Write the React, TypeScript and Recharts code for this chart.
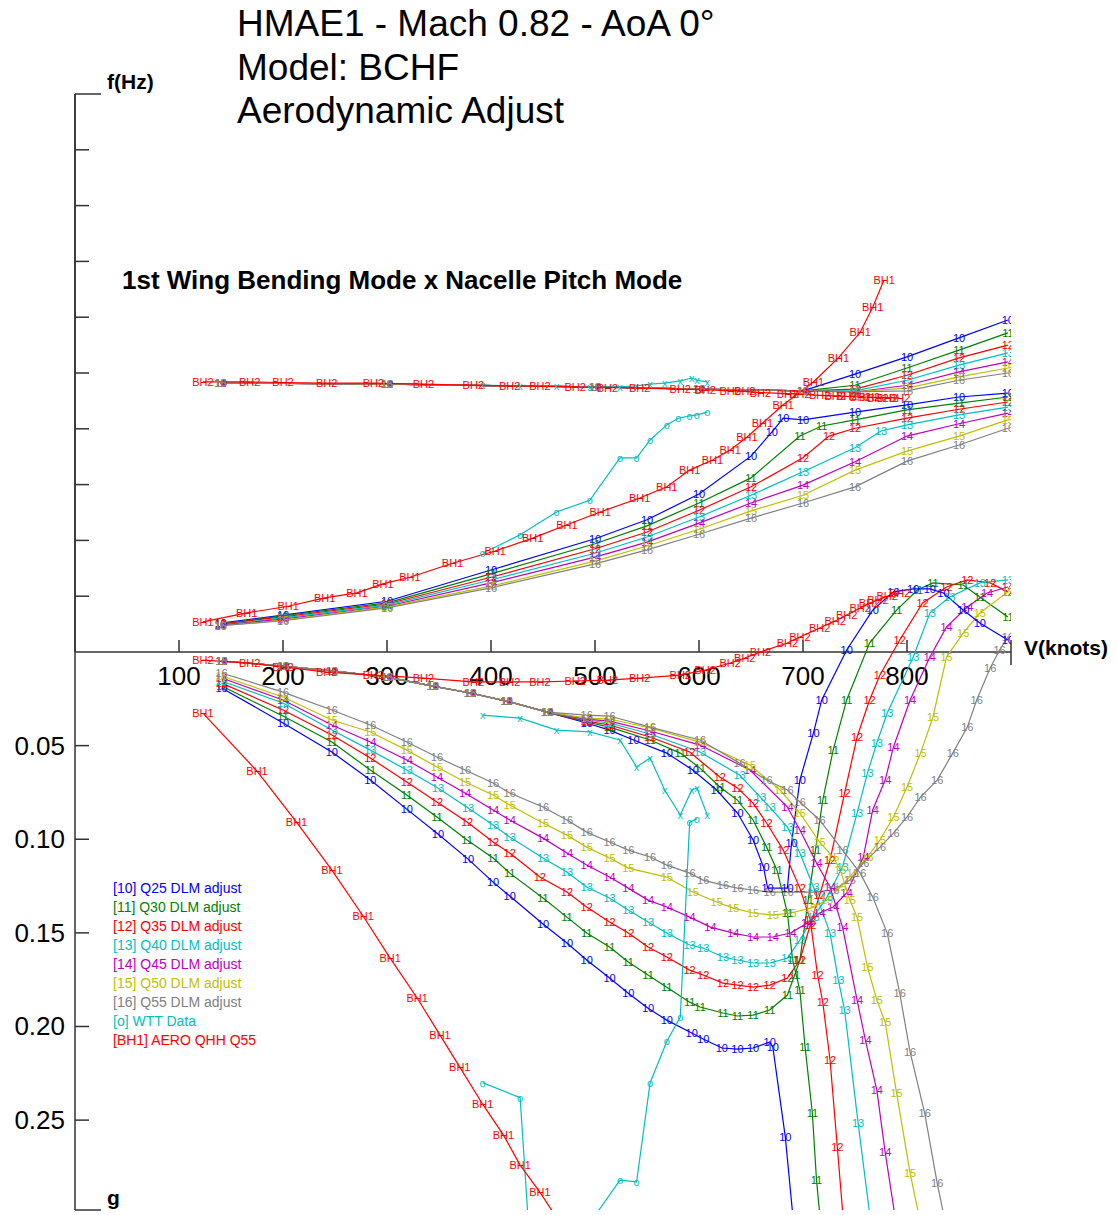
import React from "react";
import { LineChart, Line, XAxis, YAxis } from "recharts";

type P = [number, number];

const FONT = "Arial, 'Liberation Sans', sans-serif";
const AXIS = "#333";

// frequency, wing bending branch (V knots, f)
const fLow10: P[] = [[140,0.52],[200,0.66],[300,0.91],[400,1.47],[500,2.03],[550,2.37],[600,2.83],[650,3.51],[670,3.94],[681,4.19],[700,4.16],[750,4.30],[800,4.43],[850,4.57],[897,4.64]];
const fLow11: P[] = [[140,0.50],[200,0.65],[300,0.88],[400,1.40],[500,1.94],[550,2.26],[600,2.67],[650,3.12],[697,3.87],[718,4.05],[750,4.16],[800,4.34],[850,4.46],[897,4.57]];
const fLow12: P[] = [[140,0.50],[200,0.63],[300,0.86],[400,1.34],[500,1.85],[550,2.15],[600,2.54],[650,2.96],[700,3.48],[725,3.87],[750,4.01],[800,4.19],[850,4.35],[897,4.48]];
const fLow13: P[] = [[140,0.48],[200,0.61],[300,0.84],[400,1.29],[500,1.77],[550,2.06],[600,2.42],[650,2.81],[700,3.23],[750,3.66],[775,3.96],[800,4.07],[850,4.25],[897,4.39]];
const fLow14: P[] = [[140,0.48],[200,0.59],[300,0.82],[400,1.24],[500,1.70],[550,1.97],[600,2.31],[650,2.67],[700,2.99],[750,3.41],[800,3.87],[850,4.09],[897,4.28]];
const fLow15: P[] = [[140,0.47],[200,0.57],[300,0.81],[400,1.18],[500,1.63],[550,1.90],[600,2.20],[650,2.53],[700,2.81],[750,3.26],[800,3.60],[850,3.87],[897,4.16]];
const fLow16: P[] = [[140,0.47],[200,0.56],[300,0.79],[400,1.15],[500,1.58],[550,1.83],[600,2.11],[650,2.40],[700,2.67],[750,2.96],[800,3.42],[850,3.71],[897,4.01]];

// frequency, nacelle pitch branch
const fUpStart: P[] = [[140,4.82],[300,4.80],[500,4.75],[600,4.71],[700,4.68]];
const fUp10: P[] = [[750,4.98],[800,5.29],[850,5.63],[897,5.95]];
const fUp11: P[] = [[750,4.78],[800,5.09],[850,5.41],[897,5.72]];
const fUp12: P[] = [[750,4.71],[800,4.96],[850,5.27],[897,5.50]];
const fUp13: P[] = [[750,4.68],[800,4.87],[850,5.14],[897,5.36]];
const fUp14: P[] = [[750,4.66],[800,4.78],[850,5.02],[897,5.20]];
const fUp15: P[] = [[750,4.66],[800,4.73],[850,4.93],[897,5.09]];
const fUp16: P[] = [[750,4.66],[800,4.68],[850,4.87],[897,5.00]];

// damping, high branch (V, g)
const gHigh10: P[] = [[141,0.0192],[200,0.0379],[247,0.0534],[284,0.0684],[319,0.0839],[349,0.0972],[378,0.1106],[402,0.1229],[418,0.1303],[450,0.1453],[473,0.1554],[492,0.1645],[514,0.1741],[532,0.1822],[551,0.1902],[569,0.1966],[593,0.2035],[604,0.2067],[622,0.2115],[637,0.2121],[652,0.2115],[668,0.2083],[671,0.2110],[683,0.2591],[690,0.2997],[694,0.3168]];
const gHigh11: P[] = [[141,0.0182],[200,0.0342],[247,0.0481],[284,0.0630],[319,0.0764],[348,0.0881],[377,0.1004],[402,0.1100],[418,0.1181],[450,0.1314],[473,0.1416],[492,0.1501],[514,0.1576],[532,0.1656],[551,0.1725],[569,0.1790],[591,0.1870],[601,0.1896],[623,0.1928],[637,0.1944],[652,0.1939],[668,0.1912],[685,0.1832],[692,0.1725],[697,0.1645],[705,0.1325],[712,0.1058],[719,0.0791],[729,0.0524],[742,0.0256],[764,-0.0048],[790,-0.0224],[810,-0.0331],[825,-0.0369],[854,-0.0358],[870,-0.0294],[897,-0.0187]];
const gHigh12: P[] = [[141,0.0166],[200,0.0310],[247,0.0443],[284,0.0566],[319,0.0694],[348,0.0801],[377,0.0908],[402,0.1015],[418,0.1074],[447,0.1202],[473,0.1282],[492,0.1362],[514,0.1442],[532,0.1501],[551,0.1576],[569,0.1629],[591,0.1699],[604,0.1725],[623,0.1768],[637,0.1779],[652,0.1790],[668,0.1779],[685,0.1741],[697,0.1645],[707,0.1458],[716,0.1298],[726,0.1111],[740,0.0753],[752,0.0454],[764,0.0256],[774,0.0123],[793,-0.0064],[815,-0.0262],[838,-0.0347],[858,-0.0385],[880,-0.0369],[897,-0.0321]];
const gHigh13: P[] = [[141,0.0155],[200,0.0272],[247,0.0417],[284,0.0524],[319,0.0630],[349,0.0726],[378,0.0833],[402,0.0924],[418,0.0988],[450,0.1100],[473,0.1175],[492,0.1255],[514,0.1314],[532,0.1378],[551,0.1442],[569,0.1501],[591,0.1565],[604,0.1581],[623,0.1629],[637,0.1645],[652,0.1661],[668,0.1661],[685,0.1635],[697,0.1538],[710,0.1416],[723,0.1309],[738,0.1148],[752,0.0860],[762,0.0646],[771,0.0486],[781,0.0326],[806,0.0027],[822,-0.0208],[841,-0.0294],[870,-0.0369],[897,-0.0385]];
const gHigh14: P[] = [[141,0.0139],[200,0.0256],[247,0.0390],[284,0.0481],[319,0.0577],[348,0.0668],[375,0.0753],[402,0.0844],[418,0.0897],[450,0.0994],[473,0.1074],[492,0.1138],[514,0.1202],[532,0.1261],[551,0.1325],[569,0.1362],[591,0.1416],[611,0.1469],[633,0.1501],[652,0.1522],[671,0.1522],[688,0.1501],[704,0.1448],[716,0.1394],[729,0.1362],[742,0.1287],[758,0.1095],[767,0.0844],[779,0.0684],[787,0.0507],[803,0.0256],[822,0.0027],[838,-0.0134],[858,-0.0240],[877,-0.0315],[897,-0.0347]];
const gHigh15: P[] = [[141,0.0128],[200,0.0240],[247,0.0363],[284,0.0427],[319,0.0524],[348,0.0614],[375,0.0694],[402,0.0764],[418,0.0817],[450,0.0913],[473,0.0978],[492,0.1042],[514,0.1100],[532,0.1154],[569,0.1202],[594,0.1282],[617,0.1335],[633,0.1368],[652,0.1394],[671,0.1405],[688,0.1394],[707,0.1368],[723,0.1325],[736,0.1255],[748,0.1181],[762,0.1095],[774,0.1004],[787,0.0881],[800,0.0721],[813,0.0540],[825,0.0347],[838,0.0027],[854,-0.0101],[870,-0.0208],[897,-0.0321]];
const gHigh16: P[] = [[141,0.0112],[200,0.0214],[247,0.0310],[284,0.0390],[319,0.0481],[348,0.0561],[375,0.0630],[402,0.0700],[418,0.0753],[450,0.0828],[473,0.0897],[492,0.0962],[514,0.1015],[532,0.1058],[553,0.1095],[569,0.1138],[591,0.1181],[604,0.1218],[623,0.1245],[637,0.1261],[652,0.1271],[668,0.1282],[685,0.1282],[710,0.1282],[729,0.1271],[745,0.1218],[758,0.1127],[774,0.1042],[787,0.0967],[800,0.0881],[813,0.0775],[829,0.0684],[844,0.0540],[858,0.0401],[867,0.0256],[880,0.0085],[889,-0.0011],[897,-0.0080]];

// damping, low branch (shared start, then per series)
const gLowStart: P[] = [[141,0.0048],[200,0.0075],[247,0.0101],[300,0.0134],[344,0.0182],[380,0.0219],[415,0.0262],[454,0.0321]];
const gLow10: P[] = [[492,0.0379],[514,0.0417],[537,0.0470],[569,0.0540],[594,0.0630],[617,0.0737],[637,0.0860],[652,0.1004],[662,0.1148],[666,0.1261],[685,0.1261],[689,0.1020],[697,0.0684],[710,0.0433],[718,0.0256],[742,-0.0011],[767,-0.0224],[787,-0.0321],[806,-0.0337],[822,-0.0337],[835,-0.0315],[854,-0.0224],[870,-0.0155],[897,-0.0064]];
const gLow11: P[] = [[492,0.0374],[514,0.0401],[553,0.0470],[582,0.0540],[601,0.0620],[620,0.0721],[637,0.0791],[652,0.0897],[665,0.1042],[675,0.1165],[685,0.1394],[690,0.1645],[697,0.1806],[702,0.2110],[709,0.2463],[713,0.2821],[716,0.2997],[718,0.3141]];
const gLow12: P[] = [[492,0.0369],[514,0.0390],[553,0.0454],[591,0.0534],[620,0.0668],[637,0.0726],[652,0.0807],[665,0.0913],[681,0.1058],[697,0.1261],[707,0.1432],[714,0.1725],[719,0.1870],[726,0.2179],[733,0.2644],[738,0.2981],[740,0.3141]];
const gLow13: P[] = [[492,0.0363],[514,0.0379],[553,0.0438],[601,0.0534],[639,0.0657],[659,0.0775],[668,0.0828],[685,0.0935],[697,0.1074],[710,0.1255],[726,0.1501],[734,0.1752],[740,0.1912],[753,0.2516],[764,0.2997],[767,0.3141]];
const gLow14: P[] = [[492,0.0358],[514,0.0369],[553,0.0422],[601,0.0497],[649,0.0630],[685,0.0828],[697,0.0951],[713,0.1127],[726,0.1255],[738,0.1469],[752,0.1859],[760,0.2073],[771,0.2340],[779,0.2671],[788,0.2997],[791,0.3141]];
const gLow15: P[] = [[492,0.0353],[514,0.0358],[553,0.0406],[601,0.0481],[649,0.0604],[678,0.0737],[697,0.0860],[716,0.1015],[729,0.1095],[736,0.1165],[745,0.1325],[752,0.1416],[762,0.1683],[771,0.1859],[779,0.1976],[790,0.2356],[803,0.2783],[811,0.2997],[814,0.3141]];
const gLow16: P[] = [[492,0.0337],[514,0.0342],[553,0.0401],[601,0.0470],[639,0.0593],[665,0.0684],[685,0.0737],[697,0.0801],[716,0.0897],[738,0.1058],[755,0.1181],[767,0.1309],[781,0.1501],[793,0.1822],[803,0.2137],[817,0.2463],[829,0.2837],[835,0.2997],[838,0.3141]];

// aero QHH Q55
const bh1Freq: P[] = [[123,0.54],[165,0.70],[205,0.82],[240,0.97],[271,1.06],[296,1.22],[322,1.34],[363,1.59],[404,1.81],[440,2.04],[473,2.28],[505,2.51],[543,2.76],[569,2.96],[591,3.26],[613,3.44],[630,3.62],[646,3.85],[661,4.10],[681,4.43],[710,4.84],[734,5.27],[755,5.73],[767,6.18],[778,6.67]];
const bh1Damp: P[] = [[123,0.0326],[175,0.0636],[213,0.0908],[247,0.1165],[277,0.1410],[303,0.1635],[329,0.1848],[351,0.2046],[370,0.2217],[392,0.2415],[412,0.2580],[428,0.2740],[447,0.2885],[466,0.3045]];
const bh2Freq: P[] = [[123,4.84],[168,4.84],[200,4.83],[242,4.82],[287,4.82],[335,4.80],[383,4.78],[418,4.77],[447,4.76],[481,4.75],[512,4.74],[543,4.73],[582,4.71],[606,4.70],[630,4.68],[644,4.67],[659,4.65],[685,4.63],[697,4.62],[716,4.60],[731,4.59],[742,4.58],[755,4.57],[764,4.57],[772,4.56],[781,4.56],[793,4.55]];
const bh2Damp: P[] = [[123,0.0043],[168,0.0059],[200,0.0080],[242,0.0107],[287,0.0123],[335,0.0139],[383,0.0160],[418,0.0160],[447,0.0160],[481,0.0155],[512,0.0150],[543,0.0139],[582,0.0123],[606,0.0096],[630,0.0059],[644,0.0032],[659,0.0],[685,-0.0048],[697,-0.0080],[716,-0.0128],[731,-0.0166],[742,-0.0198],[755,-0.0235],[764,-0.0262],[772,-0.0278],[781,-0.0299],[793,-0.0315]];

// wind tunnel test data
const wttFreq: P[] = [[392,1.77],[428,2.10],[463,2.51],[495,2.72],[524,3.48],[540,3.48],[553,3.80],[569,4.07],[580,4.19],[591,4.23],[598,4.25],[608,4.30]];
const wttDamp: P[] = [[392,0.230],[428,0.238],[463,0.533],[495,0.305],[524,0.282],[540,0.283],[553,0.230],[569,0.208],[582,0.195],[591,0.091],[598,0.089]];
const wttXFreq: P[] = [[392,4.78],[428,4.77],[463,4.76],[495,4.75],[524,4.75],[540,4.77],[553,4.80],[567,4.82],[582,4.86],[593,4.91],[598,4.87],[608,4.84]];
const wttXDamp: P[] = [[392,0.0337],[428,0.0353],[463,0.0417],[495,0.0427],[524,0.0470],[540,0.0614],[553,0.0566],[567,0.0737],[582,0.0871],[593,0.0737],[598,0.0726],[608,0.0871]];

const vTicks = [100, 200, 300, 400, 500, 600, 700, 800, 900];
const fTicks = [1, 2, 3, 4, 5, 6, 7, 8, 9, 10];
const gTicks = [0.05, 0.1, 0.15, 0.2, 0.25, 0.298];

const series = [
  { id: "10", q: "Q25", color: "#0000ff", fLow: fLow10, fUp: fUp10, gHigh: gHigh10, gLow: gLow10 },
  { id: "11", q: "Q30", color: "#008000", fLow: fLow11, fUp: fUp11, gHigh: gHigh11, gLow: gLow11 },
  { id: "12", q: "Q35", color: "#ff0000", fLow: fLow12, fUp: fUp12, gHigh: gHigh12, gLow: gLow12 },
  { id: "13", q: "Q40", color: "#00bfbf", fLow: fLow13, fUp: fUp13, gHigh: gHigh13, gLow: gLow13 },
  { id: "14", q: "Q45", color: "#bf00bf", fLow: fLow14, fUp: fUp14, gHigh: gHigh14, gLow: gLow14 },
  { id: "15", q: "Q50", color: "#bfbf00", fLow: fLow15, fUp: fUp15, gHigh: gHigh15, gLow: gLow15 },
  { id: "16", q: "Q55", color: "#808080", fLow: fLow16, fUp: fUp16, gHigh: gHigh16, gLow: gLow16 },
];

const RED = "#ff0000";
const CYAN = "#00bfbf";
const PLOT_BOTTOM = 1210;

const pts = (a: P[]) => a.map(([v, y]) => ({ v, y }));

// text markers; skip the ones that would sit on the clipped bottom edge
const mark = (label: string, color: string) => (p: any) => {
  if (p.cx == null || p.cy == null || p.cy > PLOT_BOTTOM - 7) return <g key={`n${p.index}`} />;
  return (
    <text key={`m${p.index}`} x={p.cx} y={p.cy} textAnchor="middle" dominantBaseline="central"
      fontSize={11} fontFamily={FONT} fill={color}>{label}</text>
  );
};

const XTick = (p: any) => {
  const { x, y, payload } = p;
  if (payload.value === 900) {
    return <line x1={x} x2={x} y1={y - 12} y2={y + 13} stroke={AXIS} strokeWidth={1.5} />;
  }
  return (
    <g>
      <line x1={x} x2={x} y1={y} y2={y - 12} stroke={AXIS} strokeWidth={1.5} />
      <text x={x} y={y + 33} textAnchor="middle" fontSize={26} fontFamily={FONT} fill="#000">{payload.value}</text>
    </g>
  );
};

const FTick = (p: any) => {
  const { x, y, payload } = p;
  return <line x1={x} x2={x + (payload.value === 10 ? 26 : 14)} y1={y} y2={y} stroke={AXIS} strokeWidth={1.5} />;
};

const GTick = (p: any) => {
  const { x, y, payload } = p;
  const last = payload.value > 0.29;
  return (
    <g>
      <line x1={x} x2={x + (last ? 26 : 14)} y1={y} y2={y} stroke={AXIS} strokeWidth={1.5} />
      {!last && (
        <text x={x - 10} y={y + 9} textAnchor="end" fontSize={26} fontFamily={FONT} fill="#000">
          {payload.value.toFixed(2)}
        </text>
      )}
    </g>
  );
};

const line = (key: string, data: P[], color: string, label: string) => (
  <Line key={key} data={pts(data)} dataKey="y" type="linear" stroke={color} strokeWidth={1.2}
    dot={mark(label, color)} activeDot={false} isAnimationActive={false} />
);

const legend = [
  ...series.map((s) => ({ text: `[${s.id}] ${s.q} DLM adjust`, color: s.color })),
  { text: "[o] WTT Data", color: CYAN },
  { text: "[BH1] AERO QHH Q55", color: RED },
];

export default function App() {
  const box: React.CSSProperties = { position: "absolute", left: 0, top: 0 };
  return (
    <div style={{ position: "absolute", left: 0, top: 0, width: 1117, height: 1215, background: "#fff" }}>
      <div style={box}>
        <LineChart width={1117} height={700} margin={{ top: 94, right: 106, bottom: 0, left: 0 }}>
          <XAxis dataKey="v" type="number" domain={[0, 900]} ticks={vTicks} interval={0} height={48}
            allowDataOverflow tickSize={0} tickMargin={0} tickLine={false} tick={<XTick />}
            axisLine={{ stroke: AXIS, strokeWidth: 1.5 }} />
          <YAxis type="number" domain={[0, 10]} ticks={fTicks} interval={0} width={75}
            tickSize={0} tickMargin={0} tickLine={false} tick={<FTick />}
            axisLine={{ stroke: AXIS, strokeWidth: 1.5 }} />
          {series.map((s) => line(`fl${s.id}`, s.fLow, s.color, s.id))}
          {series.map((s) => line(`fu${s.id}`, [...fUpStart, ...s.fUp], s.color, s.id))}
          {line("fwx", wttXFreq, CYAN, "x")}
          {line("fwo", wttFreq, CYAN, "o")}
          {line("fbh1", bh1Freq, RED, "BH1")}
          {line("fbh2", bh2Freq, RED, "BH2")}
        </LineChart>
      </div>
      <div style={box}>
        <LineChart width={1117} height={1215} margin={{ top: 94, right: 106, bottom: 5, left: 0 }}>
          <XAxis dataKey="v" type="number" domain={[0, 900]} hide allowDataOverflow />
          <YAxis type="number" domain={[-0.298, 0.298]} reversed allowDataOverflow ticks={gTicks}
            interval={0} width={75} tickSize={0} tickMargin={0} tickLine={false} tick={<GTick />}
            axisLine={{ stroke: AXIS, strokeWidth: 1.5 }} />
          {series.map((s) => line(`gh${s.id}`, s.gHigh, s.color, s.id))}
          {series.map((s) => line(`gl${s.id}`, [...gLowStart, ...s.gLow], s.color, s.id))}
          {line("gwx", wttXDamp, CYAN, "x")}
          {line("gwo", wttDamp, CYAN, "o")}
          {line("gbh1", bh1Damp, RED, "BH1")}
          {line("gbh2", bh2Damp, RED, "BH2")}
        </LineChart>
      </div>
      <svg width={1117} height={1215} style={{ ...box, pointerEvents: "none" }} fontFamily={FONT}>
        <text x={237} y={36} fontSize={37}>HMAE1 - Mach 0.82 - AoA 0°</text>
        <text x={237} y={80} fontSize={37}>Model: BCHF</text>
        <text x={237} y={123} fontSize={37}>Aerodynamic Adjust</text>
        <text x={122} y={289} fontSize={26} fontWeight="bold">1st Wing Bending Mode x Nacelle Pitch Mode</text>
        <text x={107} y={89} fontSize={21} fontWeight="bold">f(Hz)</text>
        <text x={1024} y={655} fontSize={21} fontWeight="bold">V(knots)</text>
        <text x={107} y={1205} fontSize={21} fontWeight="bold">g</text>
        {legend.map((l, i) => (
          <text key={l.text} x={113} y={893 + i * 19} fontSize={14} fill={l.color}>{l.text}</text>
        ))}
      </svg>
    </div>
  );
}
